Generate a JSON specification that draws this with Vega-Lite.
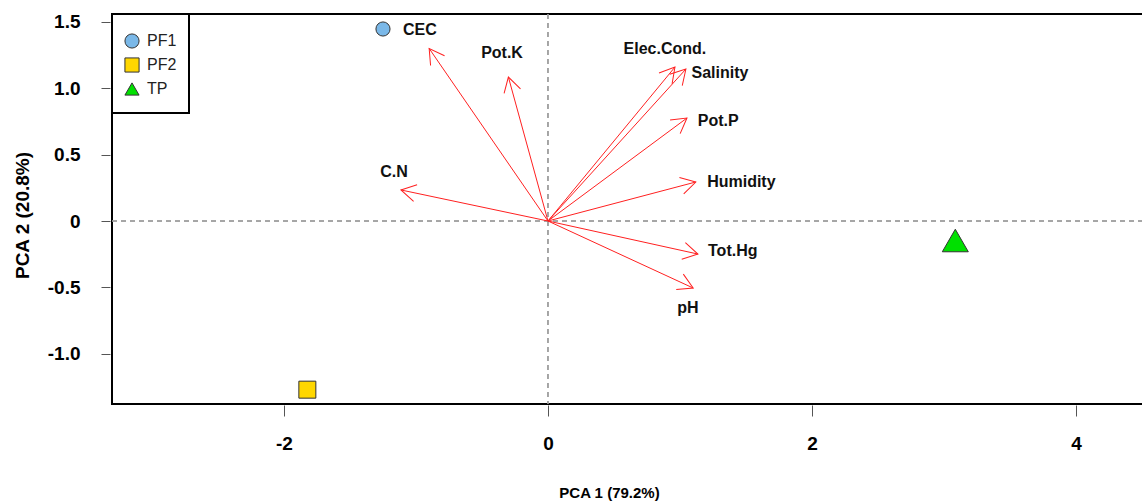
{
  "$schema": "https://vega.github.io/schema/vega-lite/v6.json",
  "width": 1031,
  "height": 390,
  "autosize": {"type": "none"},
  "padding": {"left": 112, "top": 14, "right": 0, "bottom": 97},
  "background": "white",
  "config": {
    "font": "Liberation Sans",
    "view": {"stroke": "black", "strokeWidth": 2},
    "axisX": {"domain": false, "grid": false, "offset": 1, "tickSize": 11, "tickColor": "#555555", "labelFontSize": 19, "labelFontWeight": "bold", "labelColor": "black", "labelPadding": 27, "labelBaseline": "middle", "titleFontSize": 15, "titleFontWeight": "bold", "titleColor": "black", "titleX": 497, "titleY": 87, "titleBaseline": "middle", "titleAlign": "center"},
    "axisY": {"domain": false, "grid": false, "offset": 2, "tickSize": 9, "tickColor": "#555555", "labelFontSize": 19, "labelFontWeight": "bold", "labelColor": "black", "labelPadding": 21, "titleFontSize": 19, "titleFontWeight": "bold", "titleColor": "black", "titleX": -88, "titleY": 201, "titleAngle": 270, "titleAlign": "center", "titleBaseline": "middle"},
    "legend": {"strokeColor": "black", "strokeWidth": 2, "padding": 12, "fillColor": "white", "symbolSize": 200, "labelFontSize": 16, "labelColor": "#222222", "labelOffset": 7, "clipHeight": 24, "rowPadding": 0, "symbolStrokeColor": "#333333", "symbolStrokeWidth": 1, "titleFontSize": 2, "titlePadding": 1}
  },
  "datasets": {
    "sites": [
      {"site": "PF1", "pc1": -1.25, "pc2": 1.447},
      {"site": "PF2", "pc1": -1.823, "pc2": -1.271},
      {"site": "TP", "pc1": 3.086, "pc2": -0.147}
    ],
    "vars": [
      {"name": "CEC", "x": -0.90, "y": 1.30, "lx": -0.97, "ly": 1.44},
      {"name": "Pot.K", "x": -0.30, "y": 1.085, "lx": -0.348, "ly": 1.266},
      {"name": "Elec.Cond.", "x": 0.962, "y": 1.16, "lx": 0.886, "ly": 1.296},
      {"name": "Salinity", "x": 1.045, "y": 1.145, "lx": 1.303, "ly": 1.115},
      {"name": "Pot.P", "x": 1.053, "y": 0.776, "lx": 1.29, "ly": 0.754},
      {"name": "Humidity", "x": 1.12, "y": 0.294, "lx": 1.465, "ly": 0.294},
      {"name": "C.N", "x": -1.114, "y": 0.234, "lx": -1.167, "ly": 0.369},
      {"name": "Tot.Hg", "x": 1.136, "y": -0.249, "lx": 1.40, "ly": -0.226},
      {"name": "pH", "x": 1.10, "y": -0.505, "lx": 1.06, "ly": -0.656}
    ]
  },
  "layer": [
    {
      "data": {"name": "sites"},
      "mark": {"type": "rule", "color": "#9a9a9a", "strokeDash": [5, 4], "strokeWidth": 1},
      "encoding": {
        "x": {"datum": 0, "type": "quantitative", "scale": {"domain": [-3.303, 4.508], "nice": false, "zero": false}, "title": "PCA 1 (79.2%)", "axis": {"values": [-2, 0, 2, 4], "labelExpr": "toString(datum.value)"}}
      }
    },
    {
      "data": {"name": "sites"},
      "mark": {"type": "rule", "color": "#9a9a9a", "strokeDash": [5, 4], "strokeWidth": 1},
      "encoding": {
        "y": {"datum": 0, "type": "quantitative", "scale": {"domain": [-1.379, 1.56], "nice": false, "zero": false}, "title": "PCA 2 (20.8%)", "axis": {"values": [-1, -0.5, 0, 0.5, 1, 1.5], "labelExpr": "datum.value == 0 ? '0' : (datum.value < 0 ? '-' : '') + format(abs(datum.value), '.1f')"}}
      }
    },
    {
      "data": {"name": "vars"},
      "mark": {"type": "rule", "color": "#ff2020", "strokeWidth": 1},
      "encoding": {
        "x": {"field": "x", "type": "quantitative", "scale": {"domain": [-3.303, 4.508], "nice": false, "zero": false}, "title": "PCA 1 (79.2%)", "axis": {"values": [-2, 0, 2, 4], "labelExpr": "toString(datum.value)"}},
        "y": {"field": "y", "type": "quantitative", "scale": {"domain": [-1.379, 1.56], "nice": false, "zero": false}, "title": "PCA 2 (20.8%)", "axis": {"values": [-1, -0.5, 0, 0.5, 1, 1.5], "labelExpr": "datum.value == 0 ? '0' : (datum.value < 0 ? '-' : '') + format(abs(datum.value), '.1f')"}},
        "x2": {"datum": 0},
        "y2": {"datum": 0}
      }
    },
    {
      "data": {"name": "vars"},
      "transform": [{"calculate": "atan2(datum.x, datum.y) * 180 / PI", "as": "headAngle"}],
      "mark": {"type": "point", "shape": "M -0.5 0.866 L 0 0 L 0.5 0.866", "filled": false, "color": "#ff2020", "strokeWidth": 1, "opacity": 1, "size": 1156},
      "encoding": {
        "x": {"field": "x", "type": "quantitative", "scale": {"domain": [-3.303, 4.508], "nice": false, "zero": false}, "title": "PCA 1 (79.2%)", "axis": {"values": [-2, 0, 2, 4], "labelExpr": "toString(datum.value)"}},
        "y": {"field": "y", "type": "quantitative", "scale": {"domain": [-1.379, 1.56], "nice": false, "zero": false}, "title": "PCA 2 (20.8%)", "axis": {"values": [-1, -0.5, 0, 0.5, 1, 1.5], "labelExpr": "datum.value == 0 ? '0' : (datum.value < 0 ? '-' : '') + format(abs(datum.value), '.1f')"}},
        "angle": {"field": "headAngle", "type": "quantitative", "scale": null}
      }
    },
    {
      "data": {"name": "vars"},
      "mark": {"type": "text", "fontSize": 16, "fontWeight": "bold", "color": "#111111", "align": "center", "baseline": "middle"},
      "encoding": {
        "x": {"field": "lx", "type": "quantitative", "scale": {"domain": [-3.303, 4.508], "nice": false, "zero": false}, "title": "PCA 1 (79.2%)", "axis": {"values": [-2, 0, 2, 4], "labelExpr": "toString(datum.value)"}},
        "y": {"field": "ly", "type": "quantitative", "scale": {"domain": [-1.379, 1.56], "nice": false, "zero": false}, "title": "PCA 2 (20.8%)", "axis": {"values": [-1, -0.5, 0, 0.5, 1, 1.5], "labelExpr": "datum.value == 0 ? '0' : (datum.value < 0 ? '-' : '') + format(abs(datum.value), '.1f')"}},
        "text": {"field": "name"}
      }
    },
    {
      "data": {"name": "sites"},
      "mark": {"type": "point", "filled": true, "opacity": 1, "stroke": "#333333", "strokeWidth": 1},
      "encoding": {
        "x": {"field": "pc1", "type": "quantitative", "scale": {"domain": [-3.303, 4.508], "nice": false, "zero": false}, "title": "PCA 1 (79.2%)", "axis": {"values": [-2, 0, 2, 4], "labelExpr": "toString(datum.value)"}},
        "y": {"field": "pc2", "type": "quantitative", "scale": {"domain": [-1.379, 1.56], "nice": false, "zero": false}, "title": "PCA 2 (20.8%)", "axis": {"values": [-1, -0.5, 0, 0.5, 1, 1.5], "labelExpr": "datum.value == 0 ? '0' : (datum.value < 0 ? '-' : '') + format(abs(datum.value), '.1f')"}},
        "color": {"field": "site", "type": "nominal", "scale": {"domain": ["PF1", "PF2", "TP"], "range": ["#7ab8e8", "#ffd700", "#00e000"]}, "legend": {"orient": "none", "legendX": 0, "legendY": 0, "title": " "}},
        "shape": {"field": "site", "type": "nominal", "scale": {"domain": ["PF1", "PF2", "TP"], "range": ["circle", "square", "triangle-up"]}, "legend": {"orient": "none", "legendX": 0, "legendY": 0, "title": " "}},
        "size": {"condition": [{"test": "datum.site === 'TP'", "value": 676}, {"test": "datum.site === 'PF2'", "value": 289}], "value": 200}
      }
    }
  ]
}
